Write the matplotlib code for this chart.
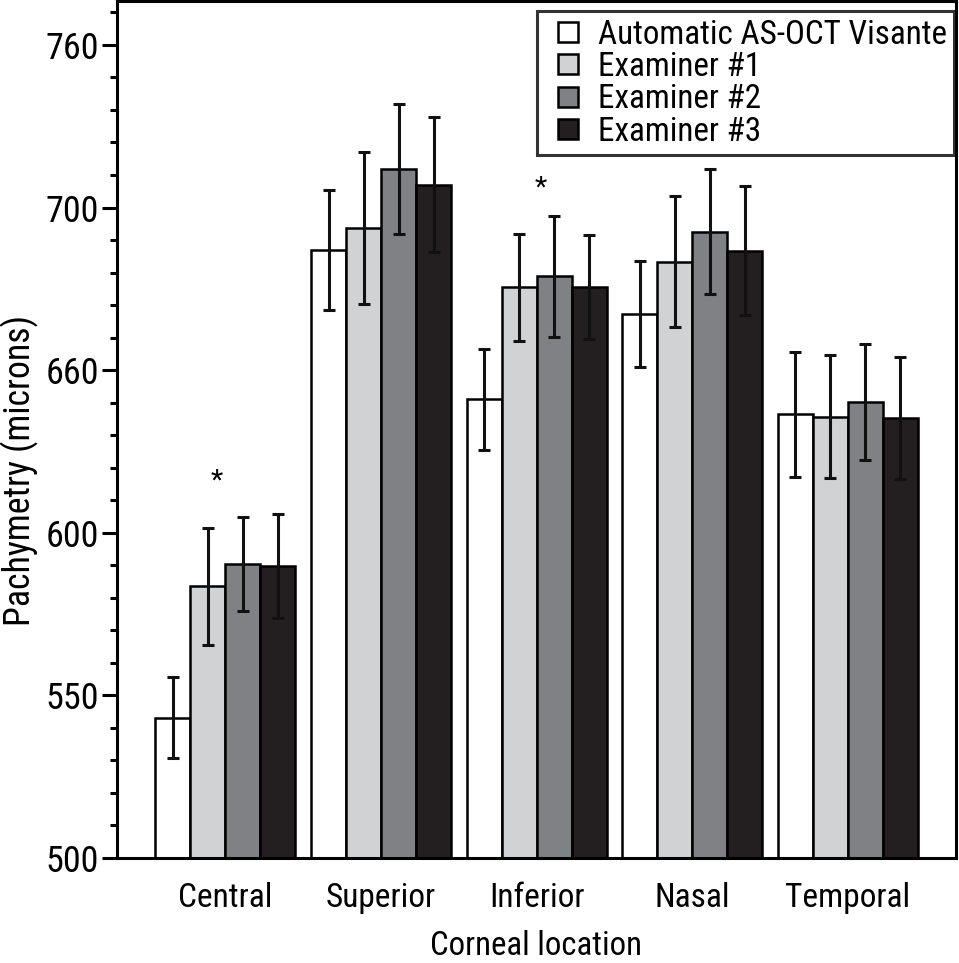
import os
import matplotlib
matplotlib.use("Agg")
import matplotlib.pyplot as plt
from matplotlib import font_manager
from matplotlib.font_manager import FontProperties
from matplotlib.textpath import TextPath
from matplotlib.ticker import FixedLocator, MultipleLocator
from matplotlib.lines import Line2D
import numpy as np

# ---------------- data ----------------
locations = ["Central", "Superior", "Inferior", "Nasal", "Temporal"]
series_names = ["Automatic AS-OCT Visante", "Examiner #1", "Examiner #2", "Examiner #3"]
auto_vals = [543.1, 687.0, 641.0, 667.3, 636.4]
ex1_vals = [583.6, 693.7, 675.5, 683.4, 635.7]
ex2_vals = [590.5, 711.9, 678.8, 692.6, 640.1]
ex3_vals = [589.7, 707.0, 675.7, 686.7, 635.2]
auto_err = [12.5, 18.5, 15.6, 16.3, 19.3]
ex1_err = [18.0, 23.4, 16.5, 20.0, 19.0]
ex2_err = [14.5, 20.0, 18.7, 19.2, 17.8]
ex3_err = [16.0, 20.7, 16.0, 19.8, 18.7]
ytick_values = [500, 550, 600, 650, 700, 750]
ytick_labels = ["500", "550", "600", "660", "700", "760"]
asterisk_groups = [0, 2]
asterisk_y = [616.0, 706.0]
asterisk_dx = [-0.055, 0.026]

values = [auto_vals, ex1_vals, ex2_vals, ex3_vals]
errors = [auto_err, ex1_err, ex2_err, ex3_err]
colors = ["#ffffff", "#d1d2d4", "#808184", "#231f20"]

# ---------------- font: prefer a narrow / condensed sans ----------------
def pick_font():
    prefs = ["liberation sans narrow", "roboto condensed", "dejavu sans condensed",
             "open sans condensed", "noto sans condensed"]
    cands = []
    for f in font_manager.fontManager.ttflist:
        n = f.name.lower()
        fn = os.path.basename(f.fname).lower()
        if any(k in fn for k in ("bold", "italic", "oblique", "light", "thin", "black", "medium", "semi")):
            continue
        if ("narrow" in n or "condensed" in n or "narrow" in fn or "condensed" in fn
                or str(f.stretch) in ("condensed", "semi-condensed", "extra-condensed")):
            cands.append(f)
    for p in prefs:
        for f in cands:
            if p in f.name.lower() or p.replace(" ", "") in os.path.basename(f.fname).lower():
                return FontProperties(fname=f.fname)
    if cands:
        return FontProperties(fname=cands[0].fname)
    return FontProperties(family=["Liberation Sans", "DejaVu Sans"])

base_fp = pick_font()

def fitted(text, target_px):
    w = TextPath((0, 0), text, prop=base_fp, size=100).get_extents().width
    size = 100 * target_px / (w * 100 / 72)
    fp = base_fp.copy()
    fp.set_size(size)
    return fp

fp_xt = fitted("Central", 90)
fp_yt = fitted("760", 50)
fp_leg = fitted("Automatic AS-OCT Visante", 348)
fp_yl = fitted("Pachymetry (microns)", 305)
fp_xl = fitted("Corneal location", 208)
fp_ast = fp_xt.copy()
fp_ast.set_size(fp_xt.get_size() * 0.85)

fig = plt.figure(figsize=(9.59, 9.63), dpi=100)
ax = fig.add_axes([117 / 959, 105 / 963, (956 - 117) / 959, (858 - 1) / 963])

x = np.arange(len(locations))
w = 0.225
for j in range(4):
    xs = x + (j - 1.5) * w
    ax.bar(xs, values[j], width=w, bottom=0, color=colors[j], edgecolor="black",
           linewidth=1.8, zorder=2, label=series_names[j])
    ax.errorbar(xs, values[j], yerr=errors[j], fmt="none", ecolor="#111111",
                elinewidth=2.2, capsize=4.3, capthick=2.2, zorder=3)

for g, yy, dx in zip(asterisk_groups, asterisk_y, asterisk_dx):
    ax.text(g + dx, yy, "*", ha="center", va="center", fontproperties=fp_ast, color="black")

ax.set_xlim(-0.697, 4.695)
ax.set_ylim(500, 763.5)
ax.set_xticks(x)
ax.set_xticklabels(locations, fontproperties=fp_xt)
ax.tick_params(axis="x", length=0, pad=17)
ax.yaxis.set_major_locator(FixedLocator(ytick_values))
ax.set_yticklabels(ytick_labels, fontproperties=fp_yt)
ax.yaxis.set_minor_locator(MultipleLocator(10))
ax.tick_params(axis="y", which="major", length=10.8, width=2.2, pad=2.2, direction="out")
ax.tick_params(axis="y", which="minor", length=5.0, width=2.2, direction="out")

for s in ax.spines.values():
    s.set_linewidth(2.2)

xl = ax.set_xlabel("Corneal location", fontproperties=fp_xl)
xl.set_verticalalignment("baseline")
ax.xaxis.set_label_coords(0.5, -0.1135)
ax.set_ylabel("Pachymetry (microns)", fontproperties=fp_yl)
ax.yaxis.set_label_coords(-0.093, 0.4516)

handles = [Line2D([], [], linestyle="none", marker="s", markersize=15,
                  markerfacecolor=c, markeredgecolor="black", markeredgewidth=1.8)
           for c in colors]
leg = ax.legend(handles, series_names, loc="upper right", bbox_to_anchor=(0.9975, 0.988),
                prop=fp_leg, frameon=True, fancybox=False, edgecolor="black",
                handlelength=1.4, handletextpad=0.2,
                labelspacing=0.01, borderpad=0.22, borderaxespad=0.0)
leg.get_frame().set_linewidth(2.2)

fig.savefig("out.png", dpi=100)
